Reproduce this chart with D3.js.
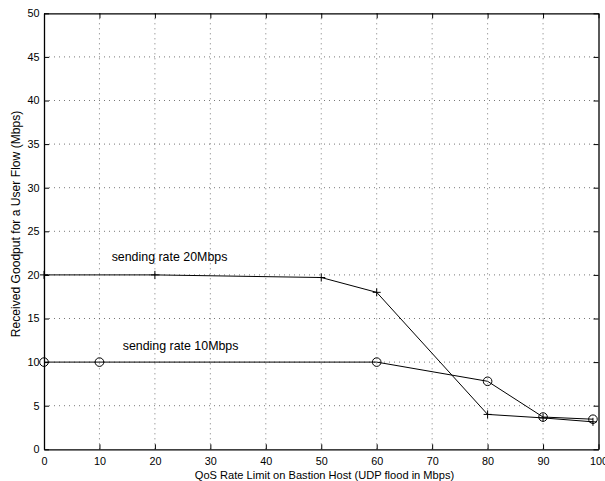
<!DOCTYPE html>
<html>
<head>
<meta charset="utf-8">
<script src="https://cdn.jsdelivr.net/npm/d3@7"></script>
<style>
  html, body { margin: 0; padding: 0; background: #fff; }
  svg { display: block; font-family: "Liberation Sans", Arial, Helvetica, sans-serif; }
</style>
</head>
<body>
<svg id="chart" width="605" height="481"></svg>
<script>
// Goodput series (Mbps) against QoS rate limit (Mbps)
const rate20X = [0, 20, 50, 60, 80, 90, 99];
const rate20Y = [20, 20, 19.7, 18, 4, 3.6, 3.15];
const rate10X = [0, 10, 60, 80, 90, 99];
const rate10Y = [10, 10, 10, 7.8, 3.7, 3.45];

const xTicks = [0, 10, 20, 30, 40, 50, 60, 70, 80, 90, 100];
const yTicks = [0, 5, 10, 15, 20, 25, 30, 35, 40, 45, 50];

const xLabel = "QoS Rate Limit on Bastion Host (UDP flood in Mbps)";
const yLabel = "Received Goodput for a User Flow (Mbps)";
const label20 = "sending rate 20Mbps";
const label10 = "sending rate 10Mbps";

const svg = d3.select("#chart");
const m = { left: 44, right: 598.5, top: 13.3, bottom: 449.3 };

const x = d3.scaleLinear().domain([0, 100]).range([m.left, m.right]);
const y = d3.scaleLinear().domain([0, 50]).range([m.bottom, m.top]);

// dotted grid
const grid = svg.append("g");
grid.selectAll("line.vx").data(xTicks.filter(d => d > 0 && d < 100)).join("line")
  .attr("x1", d => x(d)).attr("x2", d => x(d))
  .attr("y1", m.top).attr("y2", m.bottom)
  .attr("stroke", "#555").attr("stroke-width", 0.8).attr("stroke-dasharray", "1,4");
grid.selectAll("line.hy").data(yTicks.filter(d => d > 0 && d < 50)).join("line")
  .attr("x1", m.left).attr("x2", m.right)
  .attr("y1", d => y(d)).attr("y2", d => y(d))
  .attr("stroke", "#555").attr("stroke-width", 0.8).attr("stroke-dasharray", "1,4");

// axes with inward ticks, boxed
const tl = 5;
const axB = svg.append("g").attr("transform", `translate(0,${m.bottom})`)
  .call(d3.axisBottom(x).tickValues(xTicks).tickSizeInner(-tl).tickSizeOuter(0).tickPadding(8));
const axT = svg.append("g").attr("transform", `translate(0,${m.top})`)
  .call(d3.axisTop(x).tickValues(xTicks).tickSizeInner(-tl).tickSizeOuter(0).tickFormat(""));
const axL = svg.append("g").attr("transform", `translate(${m.left},0)`)
  .call(d3.axisLeft(y).tickValues(yTicks).tickSizeInner(-tl).tickSizeOuter(0).tickPadding(4.5));
const axR = svg.append("g").attr("transform", `translate(${m.right},0)`)
  .call(d3.axisRight(y).tickValues(yTicks).tickSizeInner(-tl).tickSizeOuter(0).tickFormat(""));
[axB, axT, axL, axR].forEach(a => {
  a.selectAll("path.domain").attr("stroke", "#000").attr("stroke-width", 1.3);
  a.selectAll(".tick line").attr("stroke", "#000").attr("stroke-width", 1);
  a.selectAll("text").attr("fill", "#000").attr("font-size", 10.8)
    .attr("font-family", "'Liberation Sans', Arial, sans-serif");
});
axB.selectAll("text").attr("dy", "0.71em");

// series lines
const line = d3.line().x(d => x(d[0])).y(d => y(d[1]));
const s20 = rate20X.map((v, i) => [v, rate20Y[i]]);
const s10 = rate10X.map((v, i) => [v, rate10Y[i]]);

svg.append("path").datum(s20).attr("d", line)
  .attr("fill", "none").attr("stroke", "#000").attr("stroke-width", 1);
svg.append("path").datum(s10).attr("d", line)
  .attr("fill", "none").attr("stroke", "#000").attr("stroke-width", 1);

// plus markers
const ps = 4;
svg.append("g").selectAll("path").data(s20).join("path")
  .attr("d", d => `M${x(d[0]) - ps},${y(d[1])}H${x(d[0]) + ps}M${x(d[0])},${y(d[1]) - ps}V${y(d[1]) + ps}`)
  .attr("stroke", "#000").attr("stroke-width", 1);

// circle markers
svg.append("g").selectAll("circle").data(s10).join("circle")
  .attr("cx", d => x(d[0])).attr("cy", d => y(d[1])).attr("r", 4.3)
  .attr("fill", "none").attr("stroke", "#000").attr("stroke-width", 1);

// series annotations
svg.append("text").attr("x", x(12.2)).attr("y", y(21.55))
  .attr("font-size", 12.4).attr("fill", "#000").text(label20);
svg.append("text").attr("x", x(14.2)).attr("y", y(11.35))
  .attr("font-size", 12.4).attr("fill", "#000").text(label10);

// axis titles
svg.append("text").attr("x", 324.5).attr("y", 479)
  .attr("text-anchor", "middle").attr("font-size", 11.1).attr("fill", "#000").text(xLabel);
svg.append("text").attr("transform", `translate(20,224) rotate(-90)`)
  .attr("text-anchor", "middle").attr("font-size", 12.1).attr("fill", "#000").text(yLabel);
</script>
</body>
</html>
